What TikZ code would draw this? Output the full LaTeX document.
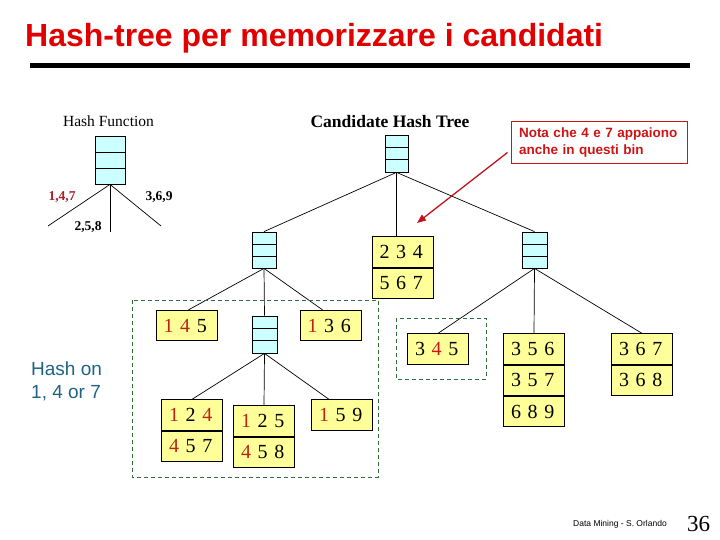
\documentclass[tikz,border=0pt]{standalone}
\usepackage{fontspec}
\setmainfont{Liberation Serif}
\setsansfont{Liberation Sans}
\usetikzlibrary{calc,arrows.meta}
\definecolor{tred}{RGB}{225,0,0}
\definecolor{dred}{RGB}{185,35,25}
\definecolor{lred}{RGB}{170,30,40}
\definecolor{nred}{RGB}{205,20,20}
\definecolor{ared}{RGB}{190,20,30}
\definecolor{hcyan}{RGB}{204,255,255}
\definecolor{cyell}{RGB}{255,255,153}
\definecolor{dgreen}{RGB}{50,110,60}
\definecolor{hteal}{RGB}{30,100,130}
\tikzset{
  hashtab/.style={draw, fill=hcyan, line width=0.8pt, inner sep=0pt,
    path picture={
      \draw[line width=0.8pt] ($(path picture bounding box.north west)!0.3333!(path picture bounding box.south west)$) -- ($(path picture bounding box.north east)!0.3333!(path picture bounding box.south east)$);
      \draw[line width=0.8pt] ($(path picture bounding box.north west)!0.6667!(path picture bounding box.south west)$) -- ($(path picture bounding box.north east)!0.6667!(path picture bounding box.south east)$);
    }},
  ycell/.style={draw, fill=cyell, line width=0.8pt, minimum width=61pt, minimum height=30.5pt,
    inner sep=0pt, text width=46pt, align=left, font=\fontsize{20}{20}\selectfont},
  edge/.style={line width=0.7pt},
  grpbox/.style={draw=dgreen, line width=0.8pt, dash pattern=on 4pt off 3pt},
  lbl/.style={font=\bfseries\fontsize{13.5}{13.5}\selectfont, inner sep=0pt},
}
\newcommand{\rd}[1]{\textcolor{dred}{#1}}
\begin{document}
\begin{tikzpicture}[x=1pt,y=-1pt]
\useasboundingbox (0,0) rectangle (720,540);
% title
\node[anchor=base west, font=\sffamily\bfseries\fontsize{32}{32}\selectfont, text=tred, inner sep=0pt] (title) at (25,47) {Hash-tree per memorizzare i candidati};
\fill (30,63) rectangle (690,68);
% hash function
\node[font=\fontsize{15.5}{15.5}\selectfont, inner sep=0pt] (hftitle) at (108.5,121) {Hash Function};
\node[hashtab, minimum width=30pt, minimum height=48pt] (hf) at (110,160) {};
\coordinate (hl) at (48,226);
\coordinate (hm) at (110,232);
\coordinate (hr) at (161,226);
\draw[edge] (hf.south) -- (hl);
\draw[edge] (hf.south) -- (hm);
\draw[edge] (hf.south) -- (hr);
\node[lbl, text=lred] (l147) at (62,197) {1,4,7};
\node[lbl] (l369) at (159,197) {3,6,9};
\node[lbl] (l258) at (88,227) {2,5,8};
% candidate hash tree
\node[font=\bfseries\fontsize{17.5}{17.5}\selectfont, inner sep=0pt] (cht) at (390,122) {Candidate Hash Tree};
\node[hashtab, minimum width=23pt, minimum height=37pt] (root) at (396.5,153.5) {};
\node[hashtab, minimum width=24pt, minimum height=36pt] (h1) at (264,250) {};
\node[hashtab, minimum width=25pt, minimum height=36pt] (h2) at (534.5,250) {};
\node[hashtab, minimum width=25pt, minimum height=37pt] (h3) at (264.5,334.5) {};
% leaves
\node[ycell] (b234a) at (402.5,252) {2 3 4};
\node[ycell, anchor=north] (b234b) at (b234a.south) {5 6 7};
\node[ycell] (b145) at (186.5,325.5) {\rd{1} \rd{4} 5};
\node[ycell] (b136) at (330.5,325.5) {\rd{1} 3 6};
\node[ycell] (b345) at (438,349) {3 \textcolor{nred}{4} 5};
\node[ycell] (b124a) at (192,415) {\rd{1} 2 \rd{4}};
\node[ycell, anchor=north] (b124b) at (b124a.south) {\rd{4} 5 7};
\node[ycell] (b125a) at (264,421) {\rd{1} 2 5};
\node[ycell, anchor=north] (b125b) at (b125a.south) {\rd{4} 5 8};
\node[ycell] (b159) at (342,415) {\rd{1} 5 9};
\node[ycell] (b356a) at (534,349) {3 5 6};
\node[ycell, anchor=north] (b356b) at (b356a.south) {3 5 7};
\node[ycell, anchor=north] (b356c) at (b356b.south) {6 8 9};
\node[ycell] (b367a) at (642,349) {3 6 7};
\node[ycell, anchor=north] (b367b) at (b367a.south) {3 6 8};
% connectors
\draw[edge] (root.south) -- (h1.north);
\draw[edge] (root.south) -- (root.south |- b234a.north);
\draw[edge] (root.south) -- (h2.north);
\draw[edge] (h1.south) -- ($(b145.north)+(2,0)$);
\draw[edge] (h1.south) -- (h3.north);
\draw[edge] (h1.south) -- ($(b136.north)+(-8,0)$);
\draw[edge] (h3.south) -- (b124a.north);
\draw[edge] (h3.south) -- (b125a.north);
\draw[edge] (h3.south) -- ($(b159.north)+(-13,0)$);
\draw[edge] (h2.south) -- (b345.north);
\draw[edge] (h2.south) -- (b356a.north);
\draw[edge] (h2.south) -- (b367a.north);
% dashed groups
\draw[grpbox] (132,300) rectangle (378,477);
\draw[grpbox] (396,318) rectangle (486,379);
% hash on
\node[anchor=west, align=left, inner sep=0pt, text=hteal, font=\sffamily\fontsize{19}{23}\selectfont] (hashon) at (31,381.5) {Hash on\\1, 4 or 7};
% note
\node[draw=nred, line width=1pt, text=nred, font=\sffamily\bfseries\fontsize{13.5}{17}\selectfont,
  align=left, text width=160pt, inner xsep=8pt, minimum height=42pt] (nota) at (599,143) {Nota che 4 e 7 appaiono\\anche in questi bin};
\coordinate (atip) at (417,223);
\draw[ared, line width=1.3pt, -{Triangle[length=9pt,width=7pt]}] ($(nota.south west)+(-3,-12)$) -- (atip);
% footer
\node[anchor=base west, inner sep=0pt, font=\sffamily\fontsize{8.5}{8.5}\selectfont] (foot) at (573,526) {Data Mining - S. Orlando};
\node[anchor=base west, inner sep=0pt, font=\fontsize{23}{23}\selectfont] (pnum) at (687,531) {36};
\end{tikzpicture}
\end{document}
